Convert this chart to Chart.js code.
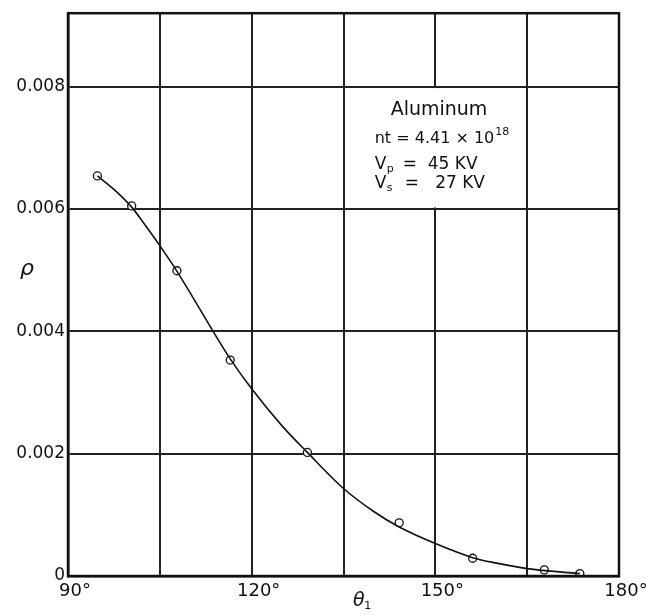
<!DOCTYPE html>
<html><head><meta charset="utf-8">
<script src="https://cdn.jsdelivr.net/npm/chart.js@4/dist/chart.umd.min.js"></script>
<style>html,body{margin:0;padding:0;background:#fff}#wrap{width:646px;height:616px}</style>
</head><body><div id="wrap"><canvas id="c" width="646" height="616"></canvas></div>
<script>
const thetaPoints = [94.8, 100.4, 107.8, 116.5, 129.1, 144.1, 156.1, 167.8, 173.6];
const rhoPoints   = [0.00654, 0.00605, 0.00499, 0.00353, 0.00202, 0.00087, 0.00029, 0.00010, 0.00004];
const curveTheta  = [94.8, 97.5, 100.4, 102.5, 105, 107.8, 110, 113.7, 116.5, 120, 125, 129.1, 135, 140, 144.1, 150, 156.1, 160, 165, 173.6];
const curveRho    = [0.00654, 0.00632, 0.00603, 0.00575, 0.00540, 0.00498, 0.00462, 0.00400, 0.00355, 0.00306, 0.00245, 0.00202, 0.00143, 0.00105, 0.00080, 0.00053, 0.00030, 0.00021, 0.00012, 0.00004];
const xLabels = [90, 120, 150, 180];
const yLabels = [0, 0.002, 0.004, 0.006, 0.008];
const noteLines = ["Aluminum", "nt = 4.41 × 10", "Vp = 45 KV", "Vs = 27 KV"];

const FONT = '"DejaVu Sans", sans-serif';
const textPlugin = {
  id: 'texts',
  beforeDatasetsDraw(chart) {
    const ctx = chart.ctx, x = chart.scales.x, y = chart.scales.y;
    ctx.save();
    ctx.fillStyle = '#fff';
    const l = x.getPixelForValue(135) + 1.5, r = x.getPixelForValue(165) - 1.5;
    const t = y.getPixelForValue(0.008) + 1.5, b = y.getPixelForValue(0.006) - 1.5;
    ctx.fillRect(l, t, r - l, b - t);
    ctx.restore();
  },
  afterDraw(chart) {
    const ctx = chart.ctx, x = chart.scales.x, y = chart.scales.y;
    ctx.save();
    ctx.fillStyle = '#111';
    ctx.textBaseline = 'middle';
    ctx.textAlign = 'center';
    ctx.font = '19px ' + FONT;
    ctx.fillText(noteLines[0], x.getPixelForValue(150.6), y.getPixelForValue(0.00761));
    ctx.textAlign = 'left';
    ctx.font = '16px ' + FONT;
    const lx = x.getPixelForValue(140.1);
    let py = y.getPixelForValue(0.00714);
    ctx.fillText(noteLines[1], lx, py);
    let w = ctx.measureText(noteLines[1]).width;
    ctx.font = '11px ' + FONT;
    ctx.fillText('18', lx + w + 1, py - 7);
    ctx.font = '17px ' + FONT;
    py = y.getPixelForValue(0.00672);
    ctx.fillText('V', lx, py);
    ctx.font = '11px ' + FONT;
    ctx.fillText('p', lx + 12, py + 4);
    ctx.font = '17px ' + FONT;
    ctx.fillText('=  45 KV', lx + 28, py);
    py = y.getPixelForValue(0.00641);
    ctx.fillText('V', lx, py);
    ctx.font = '11px ' + FONT;
    ctx.fillText('s', lx + 12, py + 4);
    ctx.font = '17px ' + FONT;
    ctx.fillText('=   27 KV', lx + 30, py);
    ctx.textAlign = 'center';
    ctx.font = 'italic 22px ' + FONT;
    ctx.fillText('ρ', 27, (chart.chartArea.top + chart.chartArea.bottom) / 2 - 25);
    ctx.font = 'italic 19px ' + FONT;
    const tx = x.getPixelForValue(137.5);
    ctx.fillText('θ', tx, chart.chartArea.bottom + 25);
    ctx.font = '11px ' + FONT;
    ctx.fillText('1', tx + 9, chart.chartArea.bottom + 30);
    ctx.restore();
  }
};

new Chart(document.getElementById('c'), {
  type: 'scatter',
  data: {
    datasets: [
      {
        type: 'line',
        data: curveTheta.map((t, i) => ({x: t, y: curveRho[i]})),
        borderColor: '#111', borderWidth: 1.6, pointRadius: 0,
        cubicInterpolationMode: 'monotone', fill: false
      },
      {
        data: thetaPoints.map((t, i) => ({x: t, y: rhoPoints[i]})),
        backgroundColor: '#fff', borderColor: '#111', borderWidth: 1.3,
        pointRadius: 4, showLine: false
      }
    ]
  },
  options: {
    responsive: false, animation: false,
    layout: {padding: {left: 0, right: 27, top: 11, bottom: 0}},
    plugins: {legend: {display: false}, tooltip: {enabled: false}},
    scales: {
      x: {
        type: 'linear', min: 90, max: 180,
        border: {display: true, color: '#111', width: 2.5},
        grid: {color: '#222', lineWidth: 2, drawTicks: false},
        afterFit(s) { s.height = 40; },
        ticks: {
          stepSize: 15, padding: 5, labelOffset: 7, color: '#111',
          font: {family: FONT, size: 18},
          callback: v => xLabels.includes(v) ? v + '°' : ''
        }
      },
      y: {
        min: 0, max: 0.0092,
        border: {display: true, color: '#111', width: 2.5},
        grid: {color: '#222', lineWidth: 2, drawTicks: false},
        afterFit(s) { s.width = 68; },
        ticks: {
          stepSize: 0.002, padding: 3, color: '#111',
          font: {family: FONT, size: 17},
          callback: v => {
            const m = yLabels.find(t => Math.abs(t - v) < 1e-9);
            return m === undefined ? '' : (m === 0 ? '0' : m.toFixed(3));
          }
        }
      }
    }
  },
  plugins: [textPlugin, {
    id: 'frame',
    afterDatasetsDraw(chart) {
      const {ctx, chartArea: a} = chart;
      ctx.save(); ctx.strokeStyle = '#111'; ctx.lineWidth = 2.5;
      ctx.strokeRect(a.left, a.top, a.right - a.left, a.bottom - a.top);
      ctx.restore();
    }
  }]
});
</script></body></html>
